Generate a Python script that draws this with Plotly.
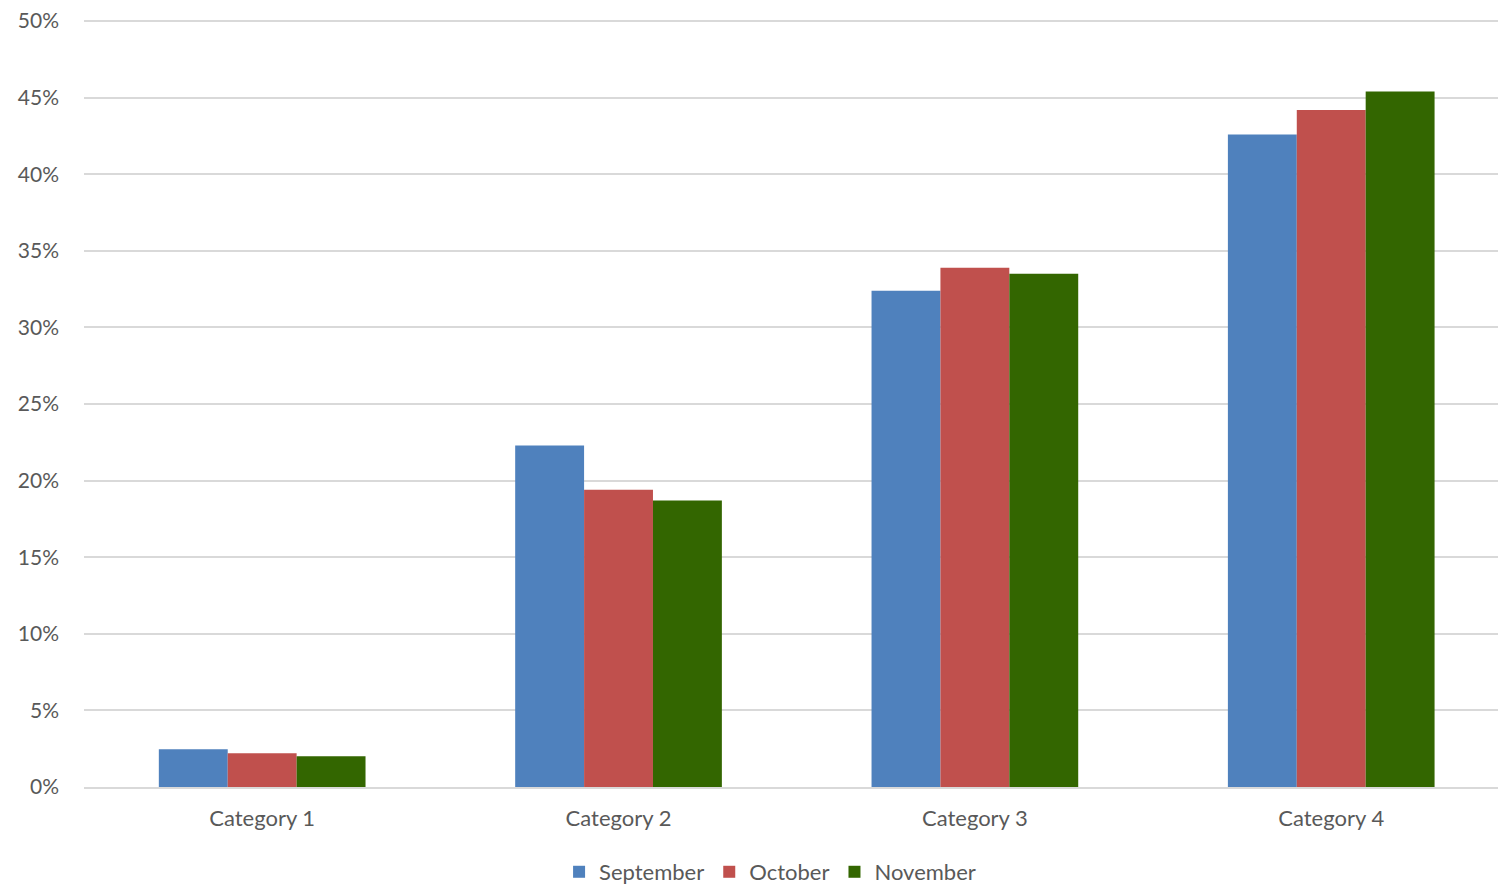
import plotly.graph_objects as go

categories = ["Category 1", "Category 2", "Category 3", "Category 4"]
september = [0.0247, 0.223, 0.324, 0.426]
october = [0.022, 0.194, 0.339, 0.442]
november = [0.020, 0.187, 0.335, 0.454]
series_names = ["September", "October", "November"]
colors = ["#4F81BD", "#C0504D", "#336600"]

fig = go.Figure()
for name, vals, c in zip(series_names, [september, october, november], colors):
    fig.add_trace(go.Bar(name=name, x=categories, y=vals, marker_color=c,
                         marker_line_width=0))

fig.update_layout(
    width=1490, height=876,
    barmode="group", bargap=0.42, bargroupgap=0,
    plot_bgcolor="white", paper_bgcolor="white",
    margin=dict(l=76, r=0, t=10, b=97, autoexpand=False),
    font=dict(family="Lato, Carlito, sans-serif", size=21, color="#595959"),
    legend=dict(orientation="h", x=0.4852, xanchor="center", y=-0.1105, yanchor="middle",
                font=dict(size=22), itemwidth=30, traceorder="normal"),
    showlegend=True,
)
fig.update_yaxes(range=[0, 0.502], tickvals=[i * 0.05 for i in range(11)],
                 tickformat=".0%", gridcolor="#D9D9D9", ticklabeloverflow="allow",
                 gridwidth=1.5, zeroline=False, showline=False, ticks="",
                 ticklabelstandoff=24, tickfont=dict(size=21))
fig.update_xaxes(range=[-0.5, 3.468], showline=True, linecolor="#D9D9D9", linewidth=1.5,
                 ticks="", ticklabelstandoff=11, tickfont=dict(size=22))
fig.write_html("out.html")
